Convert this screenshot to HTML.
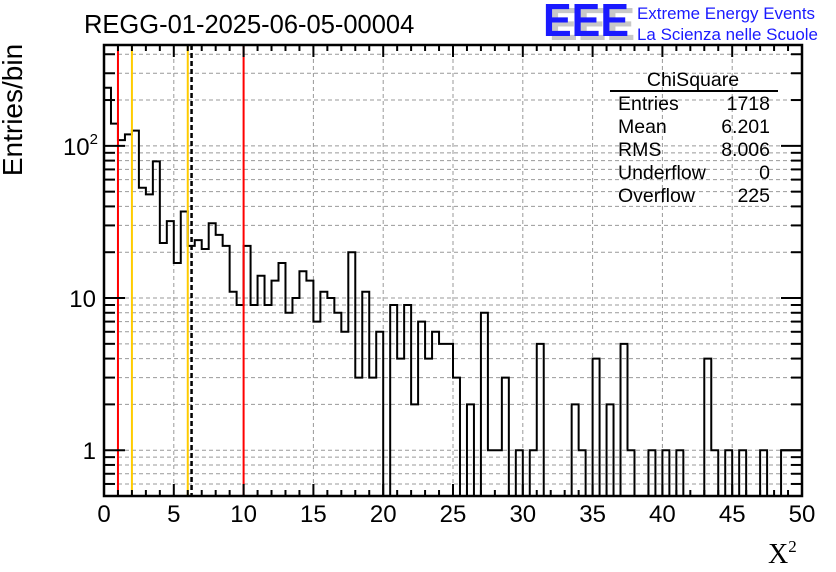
<!DOCTYPE html>
<html><head><meta charset="utf-8"><style>
html,body{margin:0;padding:0;background:#fff;}
svg{display:block;font-family:"Liberation Sans",sans-serif;}
</style></head><body>
<svg id="c" width="836" height="572" viewBox="0 0 836 572">
<rect width="836" height="572" fill="#fff"/>
<text x="84" y="33" font-size="25.5">REGG-01-2025-06-05-00004</text>
<g>
<text x="549" y="40" font-size="46" font-weight="bold" fill="#c8c8c8" textLength="86" lengthAdjust="spacingAndGlyphs">EEE</text>
<text x="543" y="36" font-size="46" font-weight="bold" fill="#1a1aff" textLength="86" lengthAdjust="spacingAndGlyphs">EEE</text>
<text x="637" y="19" font-size="17" fill="#1a1aff" textLength="178" lengthAdjust="spacingAndGlyphs">Extreme Energy Events</text>
<text x="637" y="40" font-size="17" fill="#1a1aff" textLength="181" lengthAdjust="spacingAndGlyphs">La Scienza nelle Scuole</text>
</g>
<g id="grid"></g>
<g id="hist"></g>
<g id="lines"></g>
<g id="axes"></g>
<text x="22" y="110" font-size="28" text-anchor="middle" transform="rotate(-90 22 110)">Entries/bin</text>
<text x="768" y="563" font-size="28" font-family="Liberation Serif, serif">X<tspan font-size="17" dy="-11">2</tspan></text>
<g>
<text x="693" y="86" font-size="19.5" text-anchor="middle">ChiSquare</text>
<line x1="610" y1="91" x2="778" y2="91" stroke="#000" stroke-width="2"/>
<g id="stats"></g>
</g>
</svg>
<script>
const counts=[241,140,109,119,126,53,48,79,23,32,17,37,22,24,21,31,26,22,11,9,22,9,14,9,13,17,8,10,15,13,7,11,10,8,6,20,3,11,3,6,0,9,4,9,2,7,4,6,5,5,3,0,2,0,8,1,1,3,0,1,0,1,5,0,0,0,0,2,1,0,4,0,2,0,5,1,0,0,1,0,1,0,1,0,0,0,4,1,0,1,0,1,0,0,1,0,0,1,1,1];
const binWidth=0.5;
const xTicks=[0,5,10,15,20,25,30,35,40,45,50];
const yTicks=[1,10,100];
const yTickLabels=["1","10","10²"];
const cutLinesRed=[1,10];
const cutLinesYellow=[2,6];
const meanValue=6.201;
const statNames=["Entries","Mean","RMS","Underflow","Overflow"];
const statValues=["1718","6.201","8.006","0","225"];

const L=104,R=802,T=45,B=496,XMIN=0,XMAX=50,YMIN=0.5,YMAX=460;
const NS="http://www.w3.org/2000/svg";
function X(v){return L+(v-XMIN)/(XMAX-XMIN)*(R-L);}
function Y(v){v=Math.max(v,YMIN);return B-(Math.log10(v)-Math.log10(YMIN))/(Math.log10(YMAX)-Math.log10(YMIN))*(B-T);}
function mk(tag,attrs,parent){const e=document.createElementNS(NS,tag);for(const k in attrs)e.setAttribute(k,attrs[k]);parent.appendChild(e);return e;}
const grid=document.getElementById('grid'),axes=document.getElementById('axes'),hist=document.getElementById('hist'),lines=document.getElementById('lines');
xTicks.forEach(t=>{if(t>XMIN&&t<XMAX){const g=mk('line',{x1:X(t),x2:X(t),y1:T,y2:B,stroke:'#999','stroke-width':1,'stroke-dasharray':'4,3'},grid);

}});
for(let d=0.1;d<=1000;d*=10){for(let m=1;m<=9;m++){const v=d*m;if(v<YMIN||v>YMAX)continue;const y=Y(v);
const g=mk('line',{x1:L,x2:R,y1:y,y2:y,stroke:'#999','stroke-width':1,'stroke-dasharray':'4,3'},grid);


const major=(m===1);const len=major?21:11;
mk('line',{x1:L,x2:L+len,y1:y,y2:y,stroke:'#000','stroke-width':2},axes);
mk('line',{x1:R-len,x2:R,y1:y,y2:y,stroke:'#000','stroke-width':2},axes);}}
let d='M'+X(0)+','+Y(YMIN);
counts.forEach((c,i)=>{const x0=X(i*binWidth),x1=X((i+1)*binWidth),y=Y(c);d+=' L'+x0+','+y+' L'+x1+','+y;});
d+=' L'+X(counts.length*binWidth)+','+Y(YMIN);
const hp=mk('path',{d:d,fill:'none',stroke:'#000','stroke-width':2},hist);


cutLinesRed.forEach(v=>{const l=mk('line',{x1:X(v),x2:X(v),y1:T,y2:B,stroke:'#ff0000','stroke-width':2},lines);

});
cutLinesYellow.forEach(v=>{const l=mk('line',{x1:X(v),x2:X(v),y1:T,y2:B,stroke:'#ffcc00','stroke-width':2},lines);

});
const ml=mk('line',{x1:X(meanValue)+1,x2:X(meanValue)+1,y1:T,y2:B,stroke:'#000','stroke-width':2.5,'stroke-dasharray':'5,3'},lines);


for(let v=XMIN;v<=XMAX;v+=1){const major=(v%5===0);const len=major?12:6;
mk('line',{x1:X(v),x2:X(v),y1:B,y2:B-len,stroke:'#000','stroke-width':2},axes);
mk('line',{x1:X(v),x2:X(v),y1:T,y2:T+len,stroke:'#000','stroke-width':2},axes);}
xTicks.forEach(t=>{const tx=mk('text',{x:X(t),y:522,'font-size':24,'text-anchor':'middle'},axes);tx.textContent=String(t);

});
yTicks.forEach((t,i)=>{const tx=mk('text',{x:96,y:Y(t)+9,'font-size':24,'text-anchor':'end'},axes);


if(yTickLabels[i]==="10²"){tx.textContent="10";const s=mk('tspan',{'font-size':15,dy:-11},tx);s.textContent="2";tx.setAttribute('x',98);}else tx.textContent=yTickLabels[i];});
const fr=mk('rect',{x:L,y:T,width:R-L,height:B-T,fill:'none',stroke:'#000','stroke-width':2.5},axes);


const st=document.getElementById('stats');
statNames.forEach((n,i)=>{const y=110+i*23;
const a=mk('text',{x:618,y:y,'font-size':19.5},st);a.textContent=n;


const b=mk('text',{x:770,y:y,'font-size':19.5,'text-anchor':'end'},st);b.textContent=statValues[i];

});
</script>
</body></html>
